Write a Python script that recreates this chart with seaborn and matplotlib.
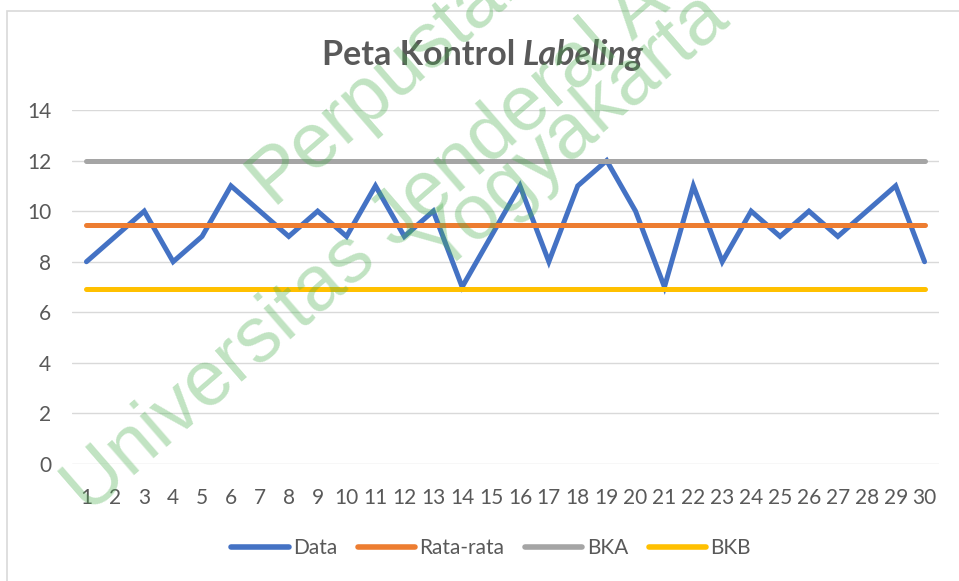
import pandas as pd
import matplotlib.pyplot as plt
import seaborn as sns
from matplotlib.lines import Line2D
from matplotlib.patches import Rectangle

# Chart values
sample = list(range(1, 31))
data_values = [8, 9, 10, 8, 9, 11, 10, 9, 10, 9,
               11, 9, 10, 7, 9, 11, 8, 11, 12, 10,
               7, 11, 8, 10, 9, 10, 9, 10, 11, 8]
rata_rata = 9.47
bka = 12.0
bkb = 6.94

series_names = ['Data', 'Rata-rata', 'BKA', 'BKB']
series_colors = {'Data': '#4472C4', 'Rata-rata': '#ED7D31', 'BKA': '#A5A5A5', 'BKB': '#FFC000'}
y_ticks = [0, 2, 4, 6, 8, 10, 12, 14]

# long format table for seaborn
df = pd.DataFrame({
    'Sampel': sample * 4,
    'Nilai': data_values + [rata_rata] * 30 + [bka] * 30 + [bkb] * 30,
    'Seri': [s for s in series_names for _ in sample],
})

sns.set_theme(style='white')
plt.rcParams['font.family'] = ['Lato', 'DejaVu Sans']

fig = plt.figure(figsize=(9.59, 5.81), dpi=100)
ax = fig.add_axes([72 / 959, 1 - 464 / 581, (939 - 72) / 959, (464 - 110) / 581])

# chart border (only top and left visible in the reference)
fig.patches.append(Rectangle((7 / 959, -0.05), 1.1, 1 - 11 / 581 + 0.05, transform=fig.transFigure,
                             fill=False, edgecolor='#D9D9D9', linewidth=1.2, zorder=0))

for name in series_names:
    sub = df[df['Seri'] == name]
    sns.lineplot(data=sub, x='Sampel', y='Nilai', ax=ax, color=series_colors[name],
                 linewidth=3.6, solid_capstyle='round', solid_joinstyle='miter', legend=False)

ax.set_xlim(0.5, 30.5)
ax.set_ylim(0, 14)
ax.set_yticks(y_ticks)
ax.set_xticks(sample)
ax.set_xticklabels([str(s) for s in sample])
ax.set_xlabel('')
ax.set_ylabel('')
ax.grid(axis='y', color='#D9D9D9', linewidth=1.0)
ax.set_axisbelow(True)
for sp in ax.spines.values():
    sp.set_visible(False)
ax.tick_params(axis='y', length=0, pad=15, labelsize=15, labelcolor='#595959')
ax.tick_params(axis='x', length=0, pad=17, labelsize=15, labelcolor='#595959')

# title: regular bold + bold italic part
fig.text(515 / 959, 1 - 55 / 581, 'Peta Kontrol', ha='right', va='center',
         fontsize=24.5, fontweight='bold', color='#595959')
fig.text(523 / 959, 1 - 55 / 581, 'Labeling', ha='left', va='center',
         fontsize=24.5, fontweight='bold', fontstyle='italic', color='#595959')

# legend
handles = [Line2D([0], [0], color=series_colors[n], linewidth=4, solid_capstyle='round') for n in series_names]
fig.legend(handles, series_names, loc='center', bbox_to_anchor=(491 / 959, 1 - 548 / 581), ncol=4,
           frameon=False, fontsize=15, labelcolor='#595959', handlelength=2.75,
           handletextpad=0.2, columnspacing=1.0)

# watermark
wm_kw = dict(fontsize=56, color='#4caf50', alpha=0.35, rotation=41, rotation_mode='anchor',
             ha='left', va='baseline', family=['Liberation Sans', 'DejaVu Sans'], zorder=10)
fig.text(272 / 959, 1 - 205 / 581, 'Perpustakaan', **wm_kw)
fig.text(88 / 959, 1 - 515 / 581, 'Universitas Jenderal Achmad Yani', **wm_kw)
fig.text(440 / 959, 1 - 275 / 581, 'Yogyakarta', **wm_kw)

fig.savefig('out.png', dpi=100)
